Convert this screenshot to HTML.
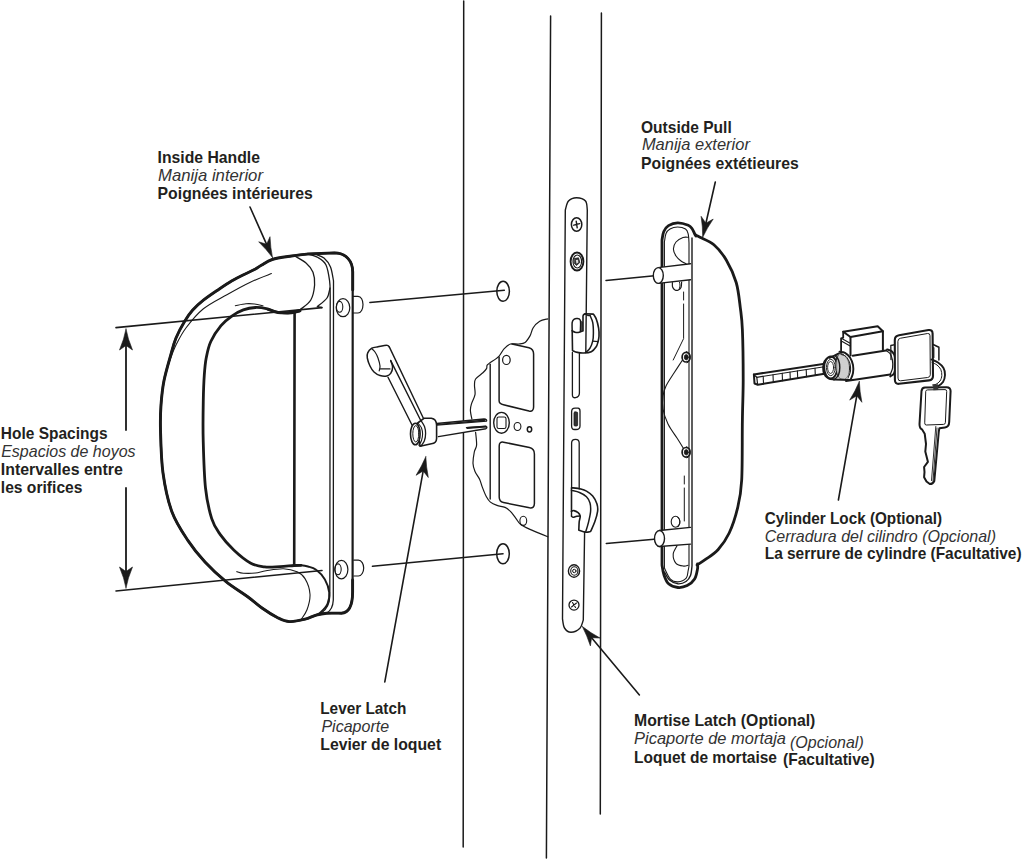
<!DOCTYPE html>
<html><head><meta charset="utf-8">
<style>
html,body{margin:0;padding:0;background:#fff;width:1024px;height:861px;overflow:hidden}
svg{display:block}
text{font-family:"Liberation Sans",sans-serif;fill:#231f20}
.b{font-weight:bold;font-size:16.4px}
.i{font-style:italic;font-size:16.4px;fill:#333}
</style></head><body>
<svg width="1024" height="861" viewBox="0 0 1024 861">
<g fill="none" stroke="#1a1a1a" stroke-linecap="round" stroke-linejoin="round">
<path d="M463.7 1 L463.2 847" stroke-width="1.5"/>
<path d="M550.6 16 L546.4 858" stroke-width="1.5"/>
<path d="M601.4 13 L600.3 814" stroke-width="1.5"/>
<path d="M352.6 592 L352.7 272 C352.7 261 346 253 334.4 252.9 L307.6 254 C304.9 254.3 297.4 255.1 291.5 256 C285.6 256.9 277.2 257.9 272.2 259.5 C267.2 261.1 264.2 263.7 261.3 265.3 C258.4 266.9 258.1 267.7 255 269.3 C251.9 270.9 246.4 273.2 242.5 275.2 C238.6 277.1 235.5 278.7 231.6 281 C227.7 283.3 223.7 286 219 289.2 C214.3 292.4 207.8 296.7 203.4 300.2 C199 303.7 195.6 306.8 192.5 310.3 C189.4 313.8 187.4 316.7 184.7 321.3 C181.9 325.9 178.3 332.5 176 338 C173.7 343.5 172.9 347.4 170.9 354.5 C168.9 361.6 165.7 372.2 164 380.6 C162.3 389 161.6 396.8 161 405 C160.4 413.2 160.2 418.7 160.5 430 C160.8 441.3 161.1 459.3 163 473 C164.9 486.7 167.8 500.7 172 512 C176.2 523.3 182.5 532.3 188 540.6 C193.5 548.9 198.7 555.2 205 562 C211.3 568.8 218.8 575.8 226 581.6 C233.2 587.4 242 592.6 248 597 C254 601.4 257.1 604.5 262 608 C266.9 611.5 273.1 615.4 277.7 617.7 C282.3 620 284.8 621.4 289.4 621.6 C293.9 621.9 300.6 620.3 305 619.2 C309.4 618.1 312.5 616.1 316.1 615.1 C319.7 614.1 322.4 613.5 326.6 613.2 C330.8 612.9 338.9 613.2 341.4 613.2 C348.5 612.8 352.6 606 352.6 592 Z" stroke-width="2.2"/>
<path d="M352.7 290 L352.7 272 C352.7 261 346 253 334.4 252.9 L307.6 254 C304.9 254.3 297.4 255.1 291.5 256 C285.6 256.9 277.2 257.9 272.2 259.5 C267.2 261.1 264.2 263.7 261.3 265.3 C258.4 266.9 258.1 267.7 255 269.3 C251.9 270.9 246.4 273.2 242.5 275.2 C238.6 277.1 235.5 278.7 231.6 281 C227.7 283.3 223.7 286 219 289.2 C214.3 292.4 207.8 296.7 203.4 300.2 C199 303.7 195.6 306.8 192.5 310.3 C189.4 313.8 187.4 316.7 184.7 321.3 C181.9 325.9 178.3 332.5 176 338 C173.7 343.5 172.9 347.4 170.9 354.5 C168.9 361.6 165.7 372.2 164 380.6 C162.3 389 161.6 396.8 161 405 C160.4 413.2 160.2 418.7 160.5 430 C160.8 441.3 161.1 459.3 163 473 C164.9 486.7 167.8 500.7 172 512 C176.2 523.3 182.5 532.3 188 540.6 C193.5 548.9 198.7 555.2 205 562 C211.3 568.8 218.8 575.8 226 581.6 C233.2 587.4 242 592.6 248 597 C254 601.4 257.1 604.5 262 608 C266.9 611.5 273.1 615.4 277.7 617.7 C282.3 620 284.8 621.4 289.4 621.6 C293.9 621.9 300.6 620.3 305 619.2 C309.4 618.1 312.5 616.1 316.1 615.1 C319.7 614.1 322.4 613.5 326.6 613.2 C330.8 612.9 338.9 613.2 341.4 613.2 C348.5 612.8 352.6 606 352.6 592 L352.6 580" stroke-width="2.9"/>
<path d="M294.7 256 C296.6 257.2 302.9 260.3 306 263 C309.1 265.7 311.6 268.5 313 272.2 C314.4 275.9 315 280.4 314.6 285 C314.2 289.6 313.2 295.9 310.8 300 C308.4 304.1 301.8 308.2 300 309.8" stroke-width="1.3"/>
<path d="M307.6 254 C309.3 254.6 314.9 255.7 318 257.5 C321.1 259.3 324 260.8 325.9 264.7 C327.8 268.6 328.9 275.8 329.6 280.8 C330.3 285.9 330.1 290.1 330.2 295 C330.3 299.9 330.2 307.5 330.2 310 L329.8 596 C329.5 604 326 610 321.4 613" stroke-width="1.3"/>
<path d="M330 288 C329.5 289.7 329.1 294.9 327 298 C324.9 301.1 318.9 305.2 317.3 306.6 L321.6 307.5" stroke-width="1.3"/>
<path d="M316 254.5 C317.3 255.1 321.6 255.9 324 258 C326.4 260.1 328.9 263.1 330.5 266.9 C332.1 270.7 333 278.5 333.5 280.8 L333.3 600 C333 606 330.5 611 326.6 613" stroke-width="1.3"/>
<path d="M271.4 273.6 C267.9 275 257.7 278.7 250.3 282.2 C242.9 285.7 234.7 290.3 226.9 294.7 C219.1 299.1 210.2 303.3 203.4 308.8 C196.6 314.3 190.9 321.5 186.3 327.5 C181.7 333.5 178.7 339.6 176 345 C173.3 350.4 171.6 355.8 170 360 C168.4 364.2 167.1 368.3 166.5 370" stroke-width="1.1"/>
<path d="M235.3 305.7 C237.1 305.4 242.8 304.1 246 303.8 C249.2 303.5 251.7 303.7 254.5 304 C257.3 304.3 261.6 305.4 263 305.7" stroke-width="1.1"/>
<path d="M300 310.5 C298.3 310.8 293.2 312.1 290 312.5 C286.8 312.9 283.5 312.9 281 312.8 C278.5 312.7 277.2 312.5 275 311.8 C272.8 311.1 270.8 309.6 267.5 308.9 C264.2 308.2 259.4 307.3 255.4 307.5 C251.4 307.7 247.2 308.5 243.3 309.9 C239.4 311.3 235.9 313.3 232.2 315.9 C228.5 318.5 224.6 321.4 221 325.7 C217.4 330 213.3 336.1 210.8 341.5 C208.3 346.9 207.3 352.4 206.2 358 C205.1 363.6 204.8 368 204.3 375 C203.8 382 203.5 389.2 203.3 400 C203.1 410.8 202.8 425.3 203.2 440 C203.6 454.7 204.1 474.9 205.5 488 C206.9 501.1 209.3 510.9 211.7 518.6 C214.1 526.3 216.4 529.1 220.1 534.4 C223.8 539.7 228.9 545.4 234 550.2 C239.1 555 245.7 560.4 250.8 563.2 C255.9 566 259.8 566.3 264.7 566.9 C269.6 567.5 275.1 566.8 280 566.6 C284.9 566.4 290.5 565.7 294 565.5 C297.5 565.3 299.8 565.3 301 565.3" stroke-width="2.8"/>
<path d="M294.6 312 L294.2 565" stroke-width="2.6"/>
<path d="M294 565.5 C295.2 565.5 298.7 565.1 301 565.3 C303.3 565.5 305.5 565.8 308 566.5 C310.5 567.2 313.3 567.6 316.1 569.8 C318.9 571.9 322.7 575.6 324.9 579.4 C327.1 583.2 328.8 588.4 329.2 592.5 C329.6 596.6 328.9 600.5 327.5 603.8 C326.1 607.1 322.6 610.5 320.5 612.5 C318.4 614.5 315.9 615.2 315 615.8" stroke-width="1.9"/>
<path d="M236.8 571.6 C237.9 571.9 240.2 573 243.3 573.2 C246.4 573.4 251.6 573.4 255.4 573 C259.2 572.6 261.3 571.5 266 570.8 C270.7 570.1 278.3 568.6 283.5 568.8 C288.7 569 293.4 570.2 297 571.8 C300.6 573.4 302.8 574.9 305 578.6 C307.2 582.3 309.7 589 310 594.2 C310.3 599.4 308.5 605.6 307 609.8 C305.5 614 302 618 301 619.6" stroke-width="1.1"/>
<path d="M268 309.5 C270 310 276.1 311.9 280 312.5 C283.9 313.1 288.2 313.2 291.5 313 C294.8 312.8 298.6 311.3 300 311" stroke-width="2.6"/>
<path d="M353.2 296.4 L358 296.4 C361 296.4 363 300 363 304.6 C363 309 361 313 358 313 L353.2 313" stroke-width="1.2"/>
<ellipse cx="343" cy="307.7" rx="6.8" ry="9" stroke-width="1.2"/>
<ellipse cx="339.6" cy="306.8" rx="3.2" ry="5.4" stroke-width="1.1"/>
<path d="M353.8 560.2 L358.4 560.2 C361.5 560.2 363.7 564 363.7 568 C363.7 572 361.5 576 358.4 576 L353.8 576" stroke-width="1.2"/>
<ellipse cx="341.4" cy="569.6" rx="6.5" ry="9.2" stroke-width="1.2"/>
<ellipse cx="338" cy="569.3" rx="3.2" ry="5.4" stroke-width="1.1"/>
<path d="M116 327.6 L322 307.6" stroke-width="1.6"/>
<path d="M116 591 L322 570.5" stroke-width="1.6"/>
<path d="M126 335 L126 430 M126 488 L126 582" stroke-width="1.8"/>
<path d="M126 329 Q124.2 339 119.5 350 L126 345.5 L132.5 350 Q127.8 339 126 329 Z" fill="#1a1a1a" stroke-width="0.6"/>
<path d="M126 588 Q124.2 578 119.5 567 L126 571.5 L132.5 567 Q127.8 578 126 588 Z" fill="#1a1a1a" stroke-width="0.6"/>
<path d="M369.9 302.5 L504.3 290.2" stroke-width="1.6"/>
<ellipse cx="503.1" cy="291.3" rx="6.3" ry="10" stroke-width="1.5"/>
<path d="M372.5 566.3 L503 553.8" stroke-width="1.6"/>
<ellipse cx="503" cy="553.8" rx="6.3" ry="10" stroke-width="1.5"/>
<path d="M606 280.4 L657 275.5" stroke-width="1.5"/>
<path d="M606.3 543.5 L657 539" stroke-width="1.5"/>
<path d="M250 207 L266.6 244.3" stroke-width="1.6"/>
<path d="M272.5 257.5 Q266.4 249.3 258.7 241.8 L266.6 244.3 L270 236.7 Q270.4 247.5 272.5 257.5 Z" fill="#1a1a1a" stroke-width="0.6"/>
<path d="M715.3 182 L705.9 223.2" stroke-width="1.6"/>
<path d="M702.7 237.2 Q702.8 227 701.1 216.3 L705.9 223.2 L713.2 219.1 Q707.1 227.9 702.7 237.2 Z" fill="#1a1a1a" stroke-width="0.6"/>
<path d="M838.4 500 L856.8 395.7" stroke-width="1.6"/>
<path d="M859.3 381.5 Q859.7 391.7 861.9 402.3 L856.8 395.7 L849.7 400.1 Q855.4 391 859.3 381.5 Z" fill="#1a1a1a" stroke-width="0.6"/>
<path d="M384.8 681.9 L423.2 470.9" stroke-width="1.6"/>
<path d="M425.8 456.7 Q426.2 466.9 428.3 477.5 L423.2 470.9 L416.1 475.3 Q421.8 466.1 425.8 456.7 Z" fill="#1a1a1a" stroke-width="0.6"/>
<path d="M639.4 695 L591.6 637.7" stroke-width="1.6"/>
<path d="M582.4 626.6 Q590.5 632.9 600 638 L591.6 637.7 L590.4 645.9 Q587.1 635.7 582.4 626.6 Z" fill="#1a1a1a" stroke-width="0.6"/>
<path d="M695.7 235.1 C696.4 235.4 697 235.6 700 237.2 C703 238.8 709.5 241 713.9 244.8 C718.3 248.6 722.7 253.9 726.4 260.2 C730.1 266.5 733.9 274.6 736.2 282.5 C738.5 290.4 739.3 299.7 740.3 307.6 C741.3 315.5 741.9 317.9 742.4 330 C742.9 342.1 743.2 365 743.2 380 C743.2 395 742.6 403.3 742.4 420 C742.1 436.7 742.5 465.4 741.7 480 C740.9 494.6 739.7 499.1 737.6 507.9 C735.5 516.7 732.5 526 729.2 533 C725.9 540 722 545.3 718 549.7 C714 554.1 709 556.9 705.5 559.4 C702 561.9 698.5 564.1 697.1 565" stroke-width="2.8"/>
<path d="M696 236 C695.8 235.6 695.1 234.7 694.5 233.5 C693.9 232.3 693.3 230.4 692.3 229 C691.3 227.6 690.8 226.2 688.3 225.2 C685.8 224.2 680.9 222.7 677.6 222.8 C674.3 222.9 670.8 224.2 668.5 225.6 C666.2 227 664.9 229.1 663.8 231.5 C662.7 233.9 662.3 238.6 662 240 L662 565 C662.3 566.7 662.9 571.9 664 575 C665.1 578.1 666.3 581.7 668.6 583.8 C670.9 585.9 674.8 587.2 677.9 587.5 C681 587.8 684.4 587 687.2 585.6 C690 584.2 692.9 581.9 694.6 579.1 C696.3 576.3 697 571.5 697.5 569 C698 566.5 697.5 564.8 697.5 564" stroke-width="2.8"/>
<path d="M692 238 L692 566 C691.8 567.6 691.5 572.9 690.5 575.5 C689.5 578.1 688.1 580.1 686 581.5 C683.9 582.9 680.8 584 678 583.8 C675.2 583.5 671.8 582 669.5 580 C667.2 578 665.3 573.3 664.5 572" stroke-width="1.4"/>
<path d="M664.4 568 L664.4 242 C664.7 240.6 665.1 235.7 666 233.5 C666.9 231.3 668.1 230.1 670 229 C671.9 227.9 675 227 677.6 227 C680.2 227 683.7 227.8 685.5 229 C687.3 230.2 687.6 231.7 688.2 234 C688.8 236.3 688.9 241.5 689 243 L689 566 C688.9 566.8 688.6 568.8 688.1 570.8 C687.6 572.8 687.9 576.4 686.2 578.2 C684.5 580.1 680.5 581.8 677.9 581.9 C675.3 582 672.6 581.4 670.4 579.1 C668.1 576.8 665.4 569.9 664.4 568" stroke-width="1.1"/>
<path d="M688.5 237.3 C687.6 237.3 685.1 236.7 683 237.5 C680.9 238.3 677.6 240.1 676 242 C674.4 243.9 673.4 246.7 673.4 249 C673.4 251.3 674.7 254 676 256 C677.3 258 679.3 259.7 681 261 C682.7 262.3 685.2 263.2 686 263.7" stroke-width="1.1"/>
<path d="M658.1 267.6 L690.5 263.7 L690.5 279.8 L658.1 283.4 Z" fill="#fff" stroke="none"/>
<path d="M658.1 267.6 L690.5 263.7 M658.1 283.4 L690.5 279.8" stroke-width="1.4"/>
<ellipse cx="658.3" cy="275.5" rx="5" ry="7.9" fill="#fff" stroke-width="1.4"/>
<path d="M672.4 282.6 C672.4 283.3 672.2 285.8 672.6 287 C673 288.2 674.1 289.5 675 290 C675.9 290.5 677 290.6 678 290.2 C679 289.8 680.4 288.9 681 287.5 C681.6 286.1 681.5 282.9 681.6 282" stroke-width="1.2"/>
<path d="M679.5 282.2 C679.6 282.8 680.1 284.8 680 286 C679.9 287.2 679.2 288.9 679 289.5" stroke-width="1.0"/>
<path d="M683.6 292 L683.6 300 M683.6 304 L683.6 338.6 L673.2 360" stroke-width="1.0"/>
<ellipse cx="686" cy="357.2" rx="3.9" ry="4.8" fill="#fff" stroke-width="1.7"/>
<ellipse cx="686.3" cy="357.2" rx="2" ry="2.7" fill="#1a1a1a" stroke-width="0.8"/>
<path d="M686.5 351.6 C687 351.9 688.9 352.8 689.5 353.7 C690.1 354.6 690.3 356 690.3 357.2 C690.3 358.4 690 359.8 689.5 360.7 C689 361.6 687.4 362.4 687 362.7" stroke-width="1.0"/>
<ellipse cx="686" cy="452.3" rx="3.9" ry="4.8" fill="#fff" stroke-width="1.7"/>
<ellipse cx="686.3" cy="452.3" rx="2" ry="2.7" fill="#1a1a1a" stroke-width="0.8"/>
<path d="M686.5 446.7 C687 447.1 688.9 447.9 689.5 448.8 C690.1 449.7 690.3 451.1 690.3 452.3 C690.3 453.5 690 454.9 689.5 455.8 C689 456.7 687.4 457.5 687 457.8" stroke-width="1.0"/>
<path d="M682.5 360 C681.1 362.2 676.8 368.7 674 373 C671.2 377.3 667.8 382.2 666 386 C664.2 389.8 663.5 392.2 663 396 C662.5 399.8 662.2 404.3 663 409 C663.8 413.7 665.7 419.2 668 424 C670.3 428.8 674.4 434 677 438 C679.6 442 682.3 446.5 683.4 448.2" stroke-width="1.1"/>
<path d="M684.3 476 L684.3 484 M684.3 488 L684.3 521" stroke-width="1.0"/>
<path d="M659.5 530.5 L690.5 527.4 L690.5 544.1 L659.5 546.5 Z" fill="#fff" stroke="none"/>
<path d="M659.5 530.5 L690.5 527.4 M659.5 546.5 L690.5 544.1" stroke-width="1.4"/>
<ellipse cx="659.5" cy="538.5" rx="5" ry="8" fill="#fff" stroke-width="1.4"/>
<ellipse cx="675.5" cy="521.8" rx="4.3" ry="5.5" stroke-width="1.1"/>
<path d="M677.5 517 C677.8 517.4 679.1 518.4 679.5 519.5 C679.9 520.6 680 522.3 679.8 523.5 C679.5 524.7 678.3 526.2 678 526.8" stroke-width="1.0"/>
<path d="M677 545.7 C676.4 547.1 673.4 551.1 673.2 554 C673 556.9 674.3 561.3 676 563.3 C677.7 565.3 681.5 565.8 683.5 566.1 C685.5 566.4 687.3 565.4 688.1 565.2" stroke-width="1.1"/>
<path d="M753.9 374.4 L828.1 363.2" stroke-width="2.0"/>
<path d="M753.9 374.4 L754.5 383.5 L757.8 384.8 L829 373.1" stroke-width="2.0"/>
<path d="M754.2 375 L756.8 377.3 L829 366" stroke-width="1.2"/>
<path d="M756.8 377.3 L757.6 384.5" stroke-width="1.2"/>
<path d="M763.2 376.3 L763.5 383.9" stroke-width="1.1"/>
<path d="M773 374.8 L773.3 382.3" stroke-width="1.1"/>
<path d="M782.2 373.3 L782.5 380.8" stroke-width="1.1"/>
<path d="M790 372.1 L790.3 379.5" stroke-width="1.1"/>
<path d="M797.4 370.9 L797.7 378.3" stroke-width="1.1"/>
<path d="M806.2 369.6 L806.5 376.8" stroke-width="1.1"/>
<path d="M815 368.2 L815.3 375.4" stroke-width="1.1"/>
<path d="M823.1 366.9 L823.4 374.1" stroke-width="1.1"/>
<path d="M829.5 357.8 C828.9 358.1 827 358.5 826 359.5 C825 360.5 824 362.1 823.6 364 C823.2 365.9 823.3 369 823.6 371 C823.9 373 824.6 374.8 825.5 376 C826.4 377.2 827.6 377.9 829 378.5 C830.4 379.1 833.2 379.3 834 379.5" stroke-width="2.0"/>
<ellipse cx="830.8" cy="367.5" rx="6.6" ry="11" fill="#fff" stroke-width="1.9"/>
<ellipse cx="830.8" cy="367.5" rx="4.4" ry="8.2" stroke-width="0.9"/>
<ellipse cx="830.6" cy="367.5" rx="3" ry="6" stroke-width="0.9"/>
<path d="M829.5 357.8 C830.2 357.5 832.4 356.5 834 355.8 C835.6 355.1 838.2 353.9 839 353.5" stroke-width="2.0"/>
<path d="M836.5 355 C837.2 354.8 839.1 353.3 840.5 353.5 C841.9 353.7 843.7 354.6 845 356 C846.3 357.4 847.8 359.8 848.5 362 C849.2 364.2 849.6 366.7 849.5 369 C849.4 371.3 848.8 374.2 848 376 C847.2 377.8 845.1 378.9 844.5 379.5 C843.8 379.3 841.2 379.4 840 378.5 C838.8 377.6 837.7 375.9 837 374 C836.3 372.1 835.9 369.5 835.8 367 C835.7 364.5 836 361 836.5 359 C837 357 838.2 355.7 838.5 355" fill="#b8b8b8" stroke-width="1.0"/>
<path d="M839 356 L848.5 356" stroke-width="0.8" stroke="#f4f4f4"/>
<path d="M839 358 L848.5 358" stroke-width="0.8" stroke="#f4f4f4"/>
<path d="M839 360 L848.5 360" stroke-width="0.8" stroke="#f4f4f4"/>
<path d="M839 362 L848.5 362" stroke-width="0.8" stroke="#f4f4f4"/>
<path d="M839 364 L848.5 364" stroke-width="0.8" stroke="#f4f4f4"/>
<path d="M839 366 L848.5 366" stroke-width="0.8" stroke="#f4f4f4"/>
<path d="M839 368 L848.5 368" stroke-width="0.8" stroke="#f4f4f4"/>
<path d="M839 370 L848.5 370" stroke-width="0.8" stroke="#f4f4f4"/>
<path d="M839 372 L848.5 372" stroke-width="0.8" stroke="#f4f4f4"/>
<path d="M839 374 L848.5 374" stroke-width="0.8" stroke="#f4f4f4"/>
<path d="M839 376 L848.5 376" stroke-width="0.8" stroke="#f4f4f4"/>
<path d="M839 378 L848.5 378" stroke-width="0.8" stroke="#f4f4f4"/>
<path d="M835.5 356 C836 356.7 837.8 358.1 838.5 360 C839.2 361.9 839.8 365 839.8 367.5 C839.8 370 839.3 373.1 838.5 375 C837.7 376.9 835.6 378.3 835 379" stroke-width="1.4"/>
<path d="M839.5 351.8 C840.4 352 843.2 351.9 845 352.8 C846.8 353.8 848.7 355.5 850 357.5 C851.3 359.5 852.5 362.4 853 365 C853.5 367.6 853.4 370.5 853 373 C852.6 375.5 850.9 378.7 850.5 379.8" stroke-width="1.9"/>
<path d="M841 354.5 C841.8 354.8 844.5 355.1 846 356.5 C847.5 357.9 849 360.6 849.8 363 C850.5 365.4 850.8 368.5 850.5 371 C850.2 373.5 848.4 376.8 848 378" stroke-width="1.0"/>
<path d="M834 379.5 L850.5 380" stroke-width="1.8"/>
<path d="M852.6 355.7 L886 350.5 M846 381 L890.2 374.5" stroke-width="1.9"/>
<path d="M886 350.5 C886.7 351 888.9 351.9 890 353.5 C891.1 355.1 892 357.6 892.4 360 C892.8 362.4 893 365.6 892.6 368 C892.2 370.4 890.6 373.4 890.2 374.5" stroke-width="1.3"/>
<path d="M887 349.4 C887.8 349.8 890.7 350.2 892 351.5 C893.3 352.8 894.4 354.6 895 357 C895.6 359.4 896 363.2 895.8 366 C895.6 368.8 894.9 371.8 894 373.5 C893.1 375.2 890.8 375.9 890.2 376.4" stroke-width="1.9"/>
<path d="M843.2 331.7 L877.7 326.3 L882.9 331.2 L850.5 337 L843.2 331.7" stroke-width="2.0"/>
<path d="M850.5 337 L850.5 355.5 M882.9 331.2 L882.9 350.2" stroke-width="2.0"/>
<path d="M843.2 331.7 L843.2 337.7 L841.1 338.3 L841.1 352.6" stroke-width="1.8"/>
<path d="M842.2 338.8 L849.7 343 M842.2 341.5 L849.7 345.8" stroke-width="1.1"/>
<path d="M891 359.5 L890.8 345.5 L895 344.6" stroke-width="1.3"/>
<path d="M932.6 344.2 L938.9 347.2 L938.9 360" stroke-width="1.5"/>
<path d="M931.8 346.5 L934.5 347.5 L934.5 358 L931.8 357.5 Z" fill="#444" stroke="none"/>
<path d="M894.8 340 Q894.8 336 899 335.3 L928.5 330 Q932.5 329.5 932.6 333.5 L933 376 Q933 380 929 380.4 L899 383.8 Q895 384.2 894.9 380 Z" fill="#fff" stroke-width="2.1"/>
<path d="M897.9 341 Q897.9 338.6 900.6 338.2 L927.6 333.5 Q930 333.2 930 335.7 L930.3 374.8 Q930.3 377.2 927.6 377.5 L900.6 380.8 Q898 381.1 898 378.5 Z" stroke-width="1.0"/>
<path d="M931.5 359.5 C932.6 360 936 361.1 938 362.5 C940 363.9 942.3 365.9 943.5 368 C944.7 370.1 945.1 372.7 945 375 C944.9 377.3 944.2 380.1 943 382 C941.8 383.9 939.2 385.5 937.5 386.5 C935.8 387.5 933.3 387.6 932.5 387.8" stroke-width="1.9"/>
<path d="M932 362.5 C932.8 362.9 935.5 363.8 937 365 C938.5 366.2 940 367.8 940.8 369.5 C941.6 371.2 941.9 373.6 941.8 375.5 C941.7 377.4 941 379.5 940 381 C939 382.5 937.2 383.6 936 384.3 C934.8 385 933.1 384.9 932.5 385" stroke-width="1.0"/>
<path d="M921.5 391 Q922 387.5 925 387.5 L946.5 387.2 Q950.5 387.2 950.6 391 L949.2 422 Q949 427 945 427.5 L939.4 428.2 L938.8 431.5 L934.3 481 Q933 484 929.8 484 L926.5 481.5 L924.1 477.2 L924.5 472 L924.1 467 L927.9 461.8 L925.3 451.6 L926 444 L924.7 433.7 L922.1 429.5 Q919.5 428.5 919.5 424 Z" fill="#fff" stroke-width="2.0"/>
<path d="M925.8 391 Q926 389.9 927.5 389.9 L945 389.6 Q946.8 389.6 946.7 391.5 L945.4 422.5 Q945.3 424.3 943.5 424.4 L926.2 425 Q924.6 425 924.7 423.2 Z" stroke-width="1.0"/>
<path d="M935.8 426.5 L931.5 480.5 M937 428 L933 481" stroke-width="0.9"/>
<path d="M933 384.5 L938 384.3 L938.4 390 L933.4 390.2 Z" fill="#333" stroke="none"/>
<path d="M389.4 347.1 C389 346.8 388.7 345.2 386.8 345.2 C384.9 345.1 380.6 346.3 378 346.8 C375.4 347.3 373.2 347.4 371.5 348.4 C369.8 349.4 368.4 351.3 367.7 352.9 C367 354.5 366.9 355.8 367.3 358 C367.7 360.2 368.9 363.7 370 366 C371.1 368.3 372.3 370.4 374 372 C375.7 373.6 377.9 374.9 380 375.5 C382.1 376.1 385 376.3 386.8 375.9 C388.6 375.5 389.7 374.8 390.7 373.3 C391.7 371.8 392.6 369.1 392.6 367 C392.6 364.9 391 361.7 390.7 360.6" stroke-width="1.5"/>
<path d="M371.5 348.4 C372.1 349 373.9 350.4 375 352 C376.1 353.6 377.2 355.7 378 358 C378.8 360.3 379.8 363.9 380 366 C380.2 368.1 379.3 370 379.2 370.8" stroke-width="1.2"/>
<path d="M380.4 368.9 L390 368.9" stroke-width="1.2"/>
<path d="M389.4 347.1 L423.5 418.5 M390.7 360.6 L420.5 420 M388 377.2 L412 425" stroke-width="1.4"/>
<path d="M436 423.6 L484 419 Q488 419.8 487.5 421.5 L486.5 429 L438.4 437 Z" fill="#fff" stroke="none"/>
<path d="M436.6 423.5 L484 419 Q487.5 419.3 486.5 421.2 L436.8 425.2" stroke-width="1.3"/>
<path d="M437 424 L484 419.5 L486 421 L437 425 Z" fill="#1a1a1a" stroke="none"/>
<path d="M438.4 436.6 L485.8 428.7 Q487.8 427.5 486 426.3 L466.5 427.8" stroke-width="1.4"/>
<path d="M466.5 427 L486 425.8 L486 427.5 L467 429 Z" fill="#1a1a1a" stroke="none"/>
<path d="M417 423.5 L424.3 418.2 L431.4 418.2 Q436.4 419 436.6 425 L436.6 438.5 Q436.4 443.5 431.4 443.7 L420 446.3 Z" fill="#fff" stroke-width="1.6"/>
<ellipse cx="415.3" cy="434" rx="4.8" ry="10.8" fill="#fff" stroke-width="1.6"/>
<ellipse cx="415.8" cy="433.8" rx="3" ry="8.2" stroke-width="1.0"/>
<path d="M418.3 423.5 C418.8 424.2 420.8 426.2 421.5 428 C422.2 429.8 422.6 431.9 422.6 434 C422.6 436.1 422.1 438.6 421.5 440.5 C420.9 442.4 419.2 444.4 418.8 445.2" stroke-width="1.1"/>
<path d="M421 420.5 C421.6 421.5 423.7 424.3 424.5 426.5 C425.3 428.7 425.6 431.1 425.6 433.5 C425.6 435.9 425.1 438.9 424.3 441 C423.5 443.1 421.6 445.2 421 446" stroke-width="1.3"/>
<path d="M547.8 318.8 C546.4 319.2 542.1 319.7 539.7 321.2 C537.3 322.7 534.8 325.2 533.2 327.7 C531.6 330.1 531.4 333.4 530 335.9 C528.6 338.3 527 341 525.1 342.4 C523.2 343.8 521 343.7 518.6 344 C516.2 344.3 512.9 343.2 510.5 344 C508.1 344.8 506 346.8 504 348.9 C502 351 501.1 354.2 498.6 356.6 C496.1 359 491.1 361.9 489.2 363.4 C487.3 364.9 487.4 364.5 487 365.4 C486.6 366.3 487.2 367.4 486.5 368.6 C485.8 369.8 484.7 371.1 482.9 372.8 C481.1 374.5 477 376.9 475.6 379 C474.2 381.1 474.6 382.7 474.5 385.3 C474.4 387.9 475.5 391.6 475 394.7 C474.5 397.8 472.2 401.5 471.4 404.1 C470.6 406.7 470.3 407.9 470.4 410.4 C470.5 412.9 471.6 417.6 471.9 419" stroke-width="1.2"/>
<path d="M475.6 432.3 C475.8 434.4 476.8 441.7 476.6 445 C476.4 448.3 474.9 448.9 474.3 452 C473.7 455.1 472.9 460.2 473 463.4 C473.1 466.6 473.9 468.7 475 471.4 C476.1 474.1 478.5 476.7 479.7 479.4 C480.9 482.1 481.3 484.5 482.4 487.4 C483.5 490.3 485.1 494.4 486.4 496.8 C487.7 499.2 488.6 500.7 490.4 502.1 C492.2 503.5 494.6 504.5 497 505.4 C499.4 506.3 502.8 506.4 505 507.4 C507.2 508.4 508.6 509.6 510.4 511.4 C512.2 513.2 513.9 515.9 515.7 518.1 C517.5 520.3 518.3 522.8 521 524.8 C523.7 526.8 527.3 528.1 531.8 530.1 C536.3 532.1 545.1 535.7 547.8 536.8" stroke-width="1.2"/>
<path d="M490.2 364.3 L490.2 499" stroke-width="1.4"/>
<path d="M499.1 400.8 L499.1 357 M512 344 L529 347.8 Q533.6 349 533.6 354 L533.6 407 Q533.6 412 529 411 L503.5 404.8 Q499.1 404 499.1 400.8" stroke-width="1.5"/>
<path d="M499.2 497 L499.2 446 Q499.2 441.5 503.5 442.2 L529.5 447.6 Q534.4 448.8 534.4 454 L534.4 503.5 Q534.4 508.5 529.5 507.8 L503.5 502.5 Q499.2 501.6 499.2 497" stroke-width="1.5"/>
<ellipse cx="506.4" cy="359.9" rx="3.8" ry="4.6" stroke-width="1.2"/>
<ellipse cx="501.5" cy="422.8" rx="7.8" ry="10.4" stroke-width="1.4"/>
<rect x="497" y="417" width="9" height="11.5" rx="1.8" stroke-width="1.1"/>
<ellipse cx="517.5" cy="426.5" rx="3.4" ry="4" stroke-width="1.1"/>
<ellipse cx="529.5" cy="429.3" rx="2.2" ry="2.6" stroke-width="1.5"/>
<ellipse cx="523.3" cy="520.8" rx="3.4" ry="4.6" stroke-width="1.1"/>
<path d="M565.3 210 L562.5 619 C562.8 620.5 563.1 625.8 564.5 628 C565.9 630.2 568.4 632.2 571 632.3 C573.6 632.3 577.9 630.3 579.9 628.3 C581.9 626.2 582.7 621.4 583.3 620 L584.6 532 M585.8 352.5 L587.3 210 C587 208.5 587.3 203.1 585.5 201 C583.7 198.9 579.3 197.7 576.5 197.7 C573.7 197.7 570.4 198.9 568.5 201 C566.6 203.1 565.8 208.5 565.3 210" stroke-width="1.4"/>
<path d="M570 224.6 m-5.6 0 a5.6 5.6 0 1 0 11.2 0 a5.6 5.6 0 1 0 -11.2 0" stroke-width="0"/>
<ellipse cx="576.6" cy="224.5" rx="5.2" ry="6.8" stroke-width="1.5"/>
<path d="M573.8 225.2 L579.6 223.6 M576.2 221.2 L577.2 227.8" stroke-width="1.4"/>
<ellipse cx="577" cy="261.5" rx="6.4" ry="9" stroke-width="1.9"/>
<ellipse cx="577.3" cy="261.5" rx="4.3" ry="6.5" stroke-width="1.1"/>
<path d="M574.6 258.5 L578.5 257.8 L579.8 262.5 L576.5 265.5 L574.2 263 Z" fill="#333" stroke-width="0.8"/>
<path d="M575.8 260 L578 259.8 L578.4 262.5 L576.5 263.8 Z" fill="#ddd" stroke="none"/>
<circle cx="574" cy="605.1" r="5" stroke-width="1.3"/>
<path d="M571.5 607 L576.5 603 M572.5 602.5 L575.5 607.5" stroke-width="1.1"/>
<ellipse cx="574" cy="571" rx="5.6" ry="6.2" stroke-width="1.4"/>
<ellipse cx="574.3" cy="571" rx="3.6" ry="4.2" stroke-width="1.1"/>
<circle cx="574.3" cy="571" r="1.7" stroke-width="1"/>
<path d="M580.6 320.5 L583 322 L582.8 331 L580.6 331.5 Z" fill="#555" stroke="none"/>
<path d="M572.2 330.8 C572.2 329.4 571.9 324.3 572.2 322.4 C572.5 320.5 573 319.9 573.9 319.3 C574.8 318.7 576.3 318.5 577.4 318.6 C578.5 318.7 579.7 319.1 580.2 320 C580.7 320.9 580.6 322.1 580.6 324 C580.6 325.9 580.4 330.2 580.4 331.5" stroke-width="1.5"/>
<path d="M572.2 330.8 C572.7 331 574 331.9 575 332.2 C576 332.5 576.9 332.7 578.1 332.5 C579.3 332.3 581.6 331.3 582.3 331.1" stroke-width="1.5"/>
<path d="M583 331 L583 316 L583.5 314.7 L585.1 313.7 L593.4 314.1 C593.9 314.9 595.3 316.6 596.2 318.9 C597.1 321.2 598.1 325.1 598.6 328 C599.1 330.9 599.1 334 599 336.3 C598.9 338.6 598.2 341 598 341.9 C597.7 342.7 597.3 345.2 596.2 346.8 C595.1 348.4 593.4 350.7 591.3 351.7 C589.2 352.7 586 352.9 583.7 353 C581.4 353.1 579.3 352.8 577.4 352.4 C575.5 352 573.3 350.9 572.5 350.6 L572.2 330.8" stroke-width="1.6"/>
<path d="M590 315.4 C590.5 316.6 592.1 319.5 592.7 322.4 C593.3 325.3 593.4 329.8 593.4 332.9 C593.4 336 593.3 338.6 592.7 341.2 C592.1 343.8 591.1 346.3 590 348.2 C588.9 350.1 586.5 351.7 585.8 352.4" stroke-width="1.5"/>
<path d="M592.7 341.2 L598 341.6 M585.1 313.7 L587.9 315.6 L590 315.4" stroke-width="1.2"/>
<path d="M572.4 352.5 L572.4 395 Q572.4 398 575.5 397.7 Q579.4 397 579.4 393 L579.4 353.2" stroke-width="1.3"/>
<path d="M571.6 412 Q571.6 408.2 575 408.2 L578 408.2 Q580 408.5 580 411 L580 426 Q580 429.5 576 429.5 L574.5 429.5 Q571.6 429.5 571.6 426 Z" stroke-width="1.3"/>
<rect x="574" y="412" width="3.6" height="14" rx="1" fill="#333" stroke-width="0.8"/>
<path d="M571.6 487.7 L571.6 443 Q571.6 439.3 575.5 439.3 Q579.2 439.3 579.2 443 L579.2 488.5" stroke-width="1.3"/>
<path d="M571.5 487.7 C573.1 487.9 578.4 488.4 580.9 489 C583.4 489.6 584.5 489.9 586.5 491.1 C588.5 492.3 591 493.9 592.7 496 C594.4 498.1 596.1 501.1 596.9 503.7 C597.7 506.2 598 508.3 597.6 511.3 C597.2 514.3 596 518.4 594.8 521.8 C593.6 525.2 591.3 529.9 590.6 531.5 C589.8 531.6 587.8 532.4 585.8 532.2 C583.8 532 580 530.5 578.8 530.1 C578.9 528.7 579 524.1 579.2 521.8 C579.4 519.5 580.4 517.7 580.2 516.2 C580 514.7 579.2 513.6 578.1 512.7 C577 511.8 575 510.8 573.9 510.6 C572.8 510.4 571.9 511.2 571.5 511.3 L571.5 487.7" stroke-width="1.6"/>
<path d="M571.5 516.2 C571.8 516.4 572.3 517.3 573.2 517.3 C574.1 517.3 575.6 516.4 576.7 516.2 C577.8 516 579.5 516 580 516" stroke-width="1.4"/>
<path d="M571.5 511.3 L571.5 516.2" stroke-width="1.4"/>
<path d="M571.5 490.4 C572.8 490.8 577 491.4 579.5 492.5 C582 493.6 584.8 494.9 586.5 496.7 C588.2 498.4 589.3 500.6 590 503 C590.7 505.4 590.8 508.2 590.6 511.3 C590.4 514.4 589.4 518.4 588.6 521.8 C587.8 525.2 586.3 529.9 585.8 531.5" stroke-width="1.5"/>
</g>
<!-- TEXT -->
<g>
<text class="b" x="157.6" y="163.4" textLength="102.4" lengthAdjust="spacingAndGlyphs">Inside Handle</text>
<text class="i" x="158" y="181.4" textLength="105" lengthAdjust="spacingAndGlyphs">Manija interior</text>
<text class="b" x="157.6" y="198.6" textLength="155.2" lengthAdjust="spacingAndGlyphs">Poignées intérieures</text>

<text class="b" x="0.8" y="438.75" textLength="106.7" lengthAdjust="spacingAndGlyphs">Hole Spacings</text>
<text class="i" x="1.2" y="457" textLength="134.4" lengthAdjust="spacingAndGlyphs">Espacios de hoyos</text>
<text class="b" x="0.8" y="475" textLength="122" lengthAdjust="spacingAndGlyphs">Intervalles entre</text>
<text class="b" x="0.8" y="492.7" textLength="81.7" lengthAdjust="spacingAndGlyphs">les orifices</text>

<text class="b" x="641" y="132.7" textLength="90.7" lengthAdjust="spacingAndGlyphs">Outside Pull</text>
<text class="i" x="641.9" y="150.3" textLength="108" lengthAdjust="spacingAndGlyphs">Manija exterior</text>
<text class="b" x="641" y="168.5" textLength="157.7" lengthAdjust="spacingAndGlyphs">Poignées extétieures</text>

<text class="b" x="764.7" y="523.5" textLength="177.3" lengthAdjust="spacingAndGlyphs">Cylinder Lock (Optional)</text>
<text class="i" x="764.7" y="541.5" textLength="231.3" lengthAdjust="spacingAndGlyphs">Cerradura del cilindro (Opcional)</text>
<text class="b" x="764.7" y="559.4" textLength="256.9" lengthAdjust="spacingAndGlyphs">La serrure de cylindre (Facultative)</text>

<text class="b" x="320.25" y="713.6" textLength="86.1" lengthAdjust="spacingAndGlyphs">Lever Latch</text>
<text class="i" x="321.4" y="731.5" textLength="67.7" lengthAdjust="spacingAndGlyphs">Picaporte</text>
<text class="b" x="320.25" y="749.8" textLength="120.9" lengthAdjust="spacingAndGlyphs">Levier de loquet</text>

<text class="b" x="634" y="726.3" textLength="181.3" lengthAdjust="spacingAndGlyphs">Mortise Latch (Optional)</text>
<text class="i" x="634" y="744.4" textLength="152" lengthAdjust="spacingAndGlyphs">Picaporte de mortaja</text>
<text class="i" x="790" y="747.5" textLength="73.7" lengthAdjust="spacingAndGlyphs">(Opcional)</text>
<text class="b" x="634" y="763" textLength="143" lengthAdjust="spacingAndGlyphs">Loquet de mortaise</text>
<text class="b" x="783" y="765.3" textLength="91.7" lengthAdjust="spacingAndGlyphs">(Facultative)</text>
</g>
</svg>
</body></html>
